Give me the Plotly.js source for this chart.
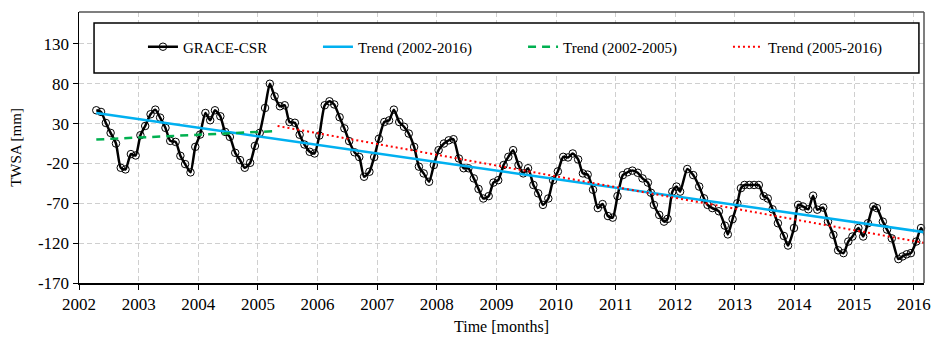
<!DOCTYPE html>
<html>
<head>
<meta charset="utf-8">
<script src="https://cdn.plot.ly/plotly-3.0.1.min.js"></script>
<style>html,body{margin:0;padding:0;background:#fff;}#chart{width:932px;height:338px;}</style>
</head>
<body>
<div id="chart"></div>
<script>
// Time in decimal years (monthly GRACE solutions)
const timeYears = [
 2002.29,2002.37,2002.45,2002.53,2002.62,2002.70,2002.78,2002.87,2002.95,
 2003.03,2003.11,2003.20,2003.28,2003.36,2003.45,2003.53,2003.62,2003.70,2003.78,2003.87,2003.95,
 2004.03,2004.12,2004.20,2004.28,2004.37,2004.45,2004.53,2004.62,2004.70,2004.78,2004.87,2004.95,
 2005.03,2005.12,2005.20,2005.28,2005.37,2005.45,2005.53,2005.62,2005.70,2005.78,2005.87,2005.95,
 2006.03,2006.12,2006.20,2006.28,2006.37,2006.45,2006.53,2006.62,2006.70,2006.78,2006.87,2006.95,
 2007.03,2007.12,2007.20,2007.28,2007.37,2007.45,2007.53,2007.62,2007.70,2007.78,2007.87,2007.95,
 2008.03,2008.12,2008.20,2008.28,2008.37,2008.45,2008.53,2008.62,2008.70,2008.78,2008.87,2008.95,
 2009.03,2009.12,2009.20,2009.28,2009.37,2009.45,2009.53,2009.62,2009.70,2009.78,2009.87,2009.95,
 2010.03,2010.12,2010.20,2010.28,2010.37,2010.45,2010.53,2010.62,2010.70,2010.78,2010.87,2010.95,
 2011.03,2011.12,2011.20,2011.28,2011.37,2011.45,2011.54,2011.59,2011.64,2011.73,2011.81,2011.87,2011.95,
 2012.02,2012.08,2012.20,2012.30,2012.40,2012.48,2012.54,2012.62,2012.73,2012.83,2012.88,2012.96,
 2013.04,2013.10,2013.16,2013.24,2013.32,2013.40,2013.48,2013.55,2013.63,2013.72,2013.82,2013.89,2013.99,
 2014.06,2014.14,2014.23,2014.31,2014.38,2014.48,2014.56,2014.65,2014.73,2014.82,2014.90,2014.97,
 2015.07,2015.15,2015.23,2015.32,2015.38,2015.48,2015.55,2015.63,2015.74,2015.81,2015.88,2015.95,
 2016.04,2016.12,2016.20
];
// GRACE-CSR terrestrial water storage anomaly [mm]
const twsa = [
 46.7,44.6,30.8,18.3,5,-25.4,-27.5,-8.3,-10,
 15.4,27,41.7,47.5,37.5,24.6,8.3,7,-10.4,-20.8,-31.2,0.8,
 16.2,43.3,34.2,46.7,39.2,19.6,13.3,-6.7,-15.8,-25.4,-19.2,2,
 18.3,49.6,80,64.2,51.7,53,32,31,16,3.75,-5.4,-7.5,
 15,53,58,54,38,24,8,-6,-12,-36.7,-30.4,-12,
 11,32,34,47.5,32,26,17.5,0.8,-24,-32.5,-43,-22,
 -3.3,5,9,10.4,-13.75,-26,-26,-38.75,-52,-64,-61,-44,
 -41,-22,-11.7,-3.3,-22,-32.5,-26,-47,-57.5,-72,-64,-41,
 -30,-11.7,-12.5,-7.5,-15,-32.5,-34,-53,-76,-71,-86,-88,
 -61,-34.6,-31,-29,-31.7,-38.75,-44,-56.7,-72,-84.6,-93,-89.6,-55.4,
 -49,-55.4,-27,-34.6,-49,-63.75,-72,-76,-80,-98,-109,-90,
 -70,-51,-47,-47,-47,-47,-61,-64,-77.5,-95,-111,-123,-101,
 -72,-74,-77.5,-60.4,-78,-75.4,-93,-109.6,-129,-132.5,-118,-111.7,
 -101,-111.7,-95,-74,-76,-93,-103,-114,-140,-136.7,-134,-132.5,
 -118,-101,-112.5
];
// Trend line end points
const trendAllX = [2002.29, 2016.20];
const trendAllY = [43.3, -106.5];
const trendEarlyX = [2002.29, 2005.29];
const trendEarlyY = [10, 20.5];
const trendLateX = [2005.33, 2016.20];
const trendLateY = [27, -120];
const seriesNames = ["GRACE-CSR", "Trend (2002-2016)", "Trend (2002-2005)", "Trend (2005-2016)"];
const yTicks = [-170, -120, -70, -20, 30, 80, 130];
const xTicks = [2002,2003,2004,2005,2006,2007,2008,2009,2010,2011,2012,2013,2014,2015,2016];

const FONT = "'Liberation Serif', 'Times New Roman', Times, serif";

const traces = [
  {x: timeYears, y: twsa, name: seriesNames[0], type: 'scatter', mode: 'lines+markers',
   line: {color: '#000', width: 2.5, shape: 'spline', smoothing: 0.6},
   marker: {symbol: 'circle-open', size: 7.5, color: '#000', line: {width: 1, color: '#000'}},
   cliponaxis: false, legend: 'legend'},
  {x: trendAllX, y: trendAllY, name: seriesNames[1], type: 'scatter', mode: 'lines',
   line: {color: '#00B0F0', width: 2.5}, legend: 'legend2'},
  {x: trendEarlyX, y: trendEarlyY, name: seriesNames[2], type: 'scatter', mode: 'lines',
   line: {color: '#00B050', width: 2.5, dash: '8px,6px'}, legend: 'legend3'},
  {x: trendLateX, y: trendLateY, name: seriesNames[3], type: 'scatter', mode: 'lines',
   line: {color: '#FF0000', width: 2, dash: '2px,3px'}, legend: 'legend4'}
];

const legBase = {orientation: 'h', xanchor: 'left', yanchor: 'middle', y: 0.871,
  bgcolor: 'rgba(0,0,0,0)', borderwidth: 0, font: {family: FONT, size: 15, color: '#000'}};

const layout = {
  width: 932, height: 338,
  margin: {l: 79, r: 8, t: 12, b: 55},
  paper_bgcolor: '#fff', plot_bgcolor: '#fff',
  font: {family: FONT, color: '#000'},
  showlegend: true,
  legend: Object.assign({}, legBase, {x: 0.0757}),
  legend2: Object.assign({}, legBase, {x: 0.2828}),
  legend3: Object.assign({}, legBase, {x: 0.5255}),
  legend4: Object.assign({}, legBase, {x: 0.768}),
  xaxis: {
    range: [2002, 2016.17], tickvals: xTicks, ticktext: xTicks.map(String),
    showgrid: true, gridcolor: '#cfcfcf', griddash: '5px,3px', gridwidth: 1,
    zeroline: false, showline: true, linecolor: '#000', linewidth: 1.5,
    ticks: 'outside', ticklen: 5, tickcolor: '#000', tickwidth: 1,
    tickfont: {family: FONT, size: 17, color: '#000'},
    title: {text: 'Time [months]', font: {family: FONT, size: 16, color: '#000'}, standoff: 8}
  },
  yaxis: {
    range: [-170, 170], tickvals: yTicks, ticktext: yTicks.map(String),
    showgrid: true, gridcolor: '#cfcfcf', griddash: '5px,3px', gridwidth: 1,
    zeroline: false, showline: true, linecolor: '#000', linewidth: 1.5,
    ticks: 'outside', ticklen: 5, tickcolor: '#000', tickwidth: 1,
    tickfont: {family: FONT, size: 17, color: '#000'},
    title: {text: 'TWSA [mm]', font: {family: FONT, size: 15, color: '#000'}, standoff: 12}
  },
  shapes: [
    {type: 'line', xref: 'paper', yref: 'paper', x0: 0, x1: 1, y0: 1, y1: 1, line: {color: '#555', width: 1.5}, layer: 'above'},
    {type: 'line', xref: 'paper', yref: 'paper', x0: 1, x1: 1, y0: 0, y1: 1, line: {color: '#555', width: 1.5}, layer: 'above'},
    {type: 'rect', xref: 'paper', yref: 'paper', x0: 0.0178, x1: 0.994, y0: 0.775, y1: 0.959,
     fillcolor: '#fff', line: {color: '#000', width: 1.5}, layer: 'above'}
  ]
};

Plotly.newPlot('chart', traces, layout, {staticPlot: true, displayModeBar: false});
</script>
</body>
</html>
